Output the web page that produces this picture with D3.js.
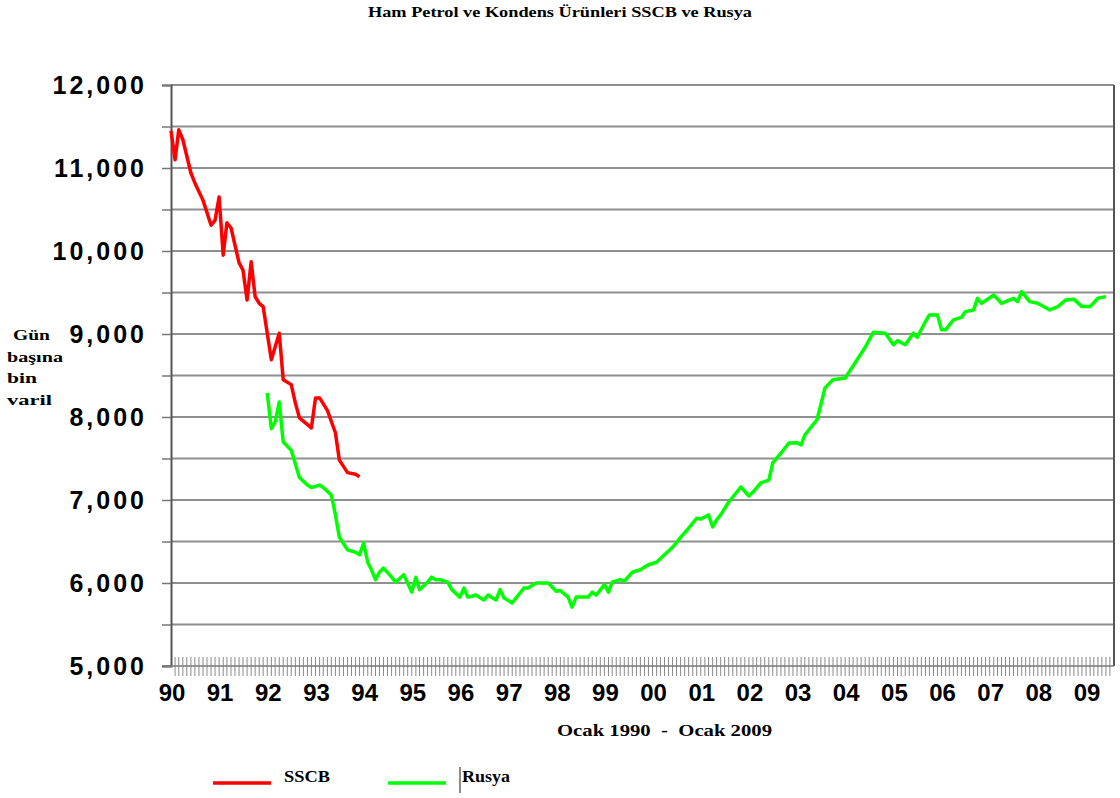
<!DOCTYPE html>
<html>
<head>
<meta charset="utf-8">
<script src="https://cdn.jsdelivr.net/npm/d3@7"></script>
<style>
  body { margin: 0; background: #fff; }
  svg { display: block; }
  .serif { font-family: "Liberation Serif", "Times New Roman", serif; font-weight: bold; }
  .sans { font-family: "Liberation Sans", Arial, sans-serif; font-weight: bold; }
</style>
</head>
<body>
<svg width="1120" height="798"></svg>
<script>
// SSCB (USSR) monthly readings
const sscbDates = ['1990-01','1990-02','1990-03','1990-04','1990-06','1990-07','1990-09','1990-11','1990-12',
  '1991-01','1991-02','1991-03','1991-04','1991-06','1991-07','1991-08','1991-09','1991-10','1991-11','1991-12',
  '1992-02','1992-04','1992-05','1992-07','1992-08','1992-09','1992-12',
  '1993-01','1993-02','1993-04','1993-06','1993-07','1993-09','1993-11','1993-12'];
const sscbValues = [11450,11100,11460,11340,10940,10820,10610,10310,10370,
  10650,9950,10340,10280,9860,9770,9410,9870,9450,9370,9330,
  8690,9010,8450,8390,8170,7990,7870,
  8230,8230,8080,7810,7480,7330,7310,7280];

// Rusya monthly readings
const rusyaDates = ['1992-01','1992-02','1992-03','1992-04','1992-05','1992-07','1992-09','1992-11','1992-12',
  '1993-02','1993-03','1993-05','1993-06','1993-07','1993-09','1993-11','1993-12',
  '1994-01','1994-02','1994-03','1994-04','1994-05','1994-06','1994-08','1994-09','1994-11',
  '1995-01','1995-02','1995-03','1995-05','1995-06','1995-07','1995-08','1995-10','1995-11',
  '1996-01','1996-02','1996-03','1996-04','1996-05','1996-07','1996-08','1996-10','1996-11','1996-12',
  '1997-02','1997-05','1997-06','1997-08','1997-11',
  '1998-01','1998-02','1998-04','1998-05','1998-06','1998-09','1998-10','1998-11',
  '1999-01','1999-02','1999-03','1999-05','1999-06','1999-08','1999-10','1999-12',
  '2000-02','2000-04','2000-06','2000-08','2000-10','2000-12',
  '2001-01','2001-03','2001-04','2001-05','2001-06','2001-08','2001-09','2001-11',
  '2002-01','2002-02','2002-04','2002-06','2002-07','2002-09','2002-11',
  '2003-01','2003-02','2003-03','2003-05','2003-06','2003-07','2003-08','2003-10',
  '2004-01','2004-04','2004-06','2004-08','2004-11',
  '2005-01','2005-02','2005-04','2005-06','2005-07','2005-09','2005-10','2005-12',
  '2006-01','2006-02','2006-04','2006-06','2006-07','2006-09','2006-10','2006-11',
  '2007-02','2007-04','2007-07','2007-08','2007-09','2007-11',
  '2008-01','2008-04','2008-06','2008-08','2008-10','2008-12',
  '2009-02','2009-04','2009-06'];
const rusyaValues = [8290,7860,7940,8180,7700,7600,7270,7180,7150,
  7180,7150,7060,6820,6550,6400,6370,6340,
  6480,6250,6160,6040,6130,6180,6070,6010,6100,
  5890,6070,5920,6010,6070,6040,6040,6010,5920,
  5830,5940,5830,5840,5855,5795,5855,5795,5920,5820,
  5760,5940,5940,6000,6000,
  5900,5910,5830,5710,5830,5830,5890,5855,
  5980,5890,6010,6040,6020,6130,6160,6220,
  6250,6340,6430,6550,6660,6780,
  6770,6820,6675,6760,6820,6976,7036,7157,
  7048,7096,7205,7240,7446,7566,7687,
  7690,7663,7783,7904,7964,8150,8350,8450,
  8470,8690,8840,9020,9010,
  8870,8920,8870,9010,8960,9150,9230,9230,
  9050,9050,9170,9200,9270,9290,9430,9370,
  9470,9370,9430,9390,9510,9390,
  9370,9290,9330,9410,9420,9330,
  9330,9430,9450];

const yTicks = [5000, 6000, 7000, 8000, 9000, 10000, 11000, 12000];
const yLabelLines = ['Gün', 'başına', 'bin', 'varil'];

const parse = d3.timeParse('%Y-%m');
const sscb = sscbDates.map((d, i) => ({ date: parse(d), value: sscbValues[i] }));
const rusya = rusyaDates.map((d, i) => ({ date: parse(d), value: rusyaValues[i] }));

const plotLeft = 171, plotRight = 1114, plotTop = 85, plotBottom = 666;
const svg = d3.select('svg');

const x = d3.scaleTime()
  .domain([parse('1990-01'), parse('2009-08')])
  .range([plotLeft, plotRight]);
const y = d3.scaleLinear().domain([5000, 12000]).range([plotBottom, plotTop]);

// gridlines every 500
const gridVals = d3.range(5000, 12001, 500);
svg.append('g').selectAll('line').data(gridVals.filter(v => v > 5000)).join('line')
  .attr('x1', plotLeft).attr('x2', plotRight)
  .attr('y1', d => y(d)).attr('y2', d => y(d))
  .attr('stroke', '#8f8f8f').attr('stroke-width', 2);

// right border
svg.append('line').attr('x1', plotRight).attr('x2', plotRight).attr('y1', plotTop).attr('y2', plotBottom)
  .attr('stroke', '#555').attr('stroke-width', 2);

// y axis
const yAxis = svg.append('g').attr('transform', `translate(${plotLeft},0)`)
  .call(d3.axisLeft(y).tickValues(gridVals).tickSize(9).tickPadding(15)
    .tickFormat(d => yTicks.includes(d) ? d3.format(',')(d) : ''));
yAxis.select('.domain').attr('stroke', '#555').attr('stroke-width', 2);
yAxis.selectAll('.tick line').attr('stroke', '#777').attr('stroke-width', 1.5);
yAxis.selectAll('.tick text').attr('class', 'sans').attr('font-size', 25)
  .attr('letter-spacing', 3).attr('fill', '#000');

// x axis: monthly ticks crossing the axis line
const months = d3.timeMonth.range(parse('1990-02'), parse('2009-08'));
svg.append('g').selectAll('line').data(months).join('line')
  .attr('x1', d => x(d)).attr('x2', d => x(d))
  .attr('y1', plotBottom - 9).attr('y2', plotBottom + 10)
  .attr('stroke', '#8a8a8a').attr('stroke-width', 1);
svg.append('line').attr('x1', plotLeft - 9).attr('x2', plotRight).attr('y1', plotBottom).attr('y2', plotBottom)
  .attr('stroke', '#777').attr('stroke-width', 1.5);

const years = d3.timeYear.range(parse('1990-01'), parse('2009-08'));
svg.append('g').selectAll('text').data(years).join('text')
  .attr('class', 'sans').attr('font-size', 24)
  .attr('x', d => x(d) + 1).attr('y', 701)
  .attr('text-anchor', 'middle')
  .text(d3.timeFormat('%y'));

// lines
const line = d3.line().x(d => x(d.date)).y(d => y(d.value));
svg.append('path').datum(sscb).attr('d', line)
  .attr('fill', 'none').attr('stroke', '#ff0000').attr('stroke-width', 3.5)
  .attr('stroke-linejoin', 'round');
svg.append('path').datum(rusya).attr('d', line)
  .attr('fill', 'none').attr('stroke', '#00ff00').attr('stroke-width', 3.5)
  .attr('stroke-linejoin', 'round');

// title
svg.append('text').attr('class', 'serif').attr('font-size', 15)
  .attr('x', 368).attr('y', 17)
  .attr('textLength', 384).attr('lengthAdjust', 'spacingAndGlyphs')
  .text('Ham Petrol ve Kondens Ürünleri SSCB ve Rusya');

// y label
const yLabelX = [13, 7, 7, 7];
const yLabelW = [37, 56, 30, 45];
svg.append('g').selectAll('text').data(yLabelLines).join('text')
  .attr('class', 'serif').attr('font-size', 15)
  .attr('x', (d, i) => yLabelX[i])
  .attr('y', (d, i) => 340 + i * 21.5)
  .attr('textLength', (d, i) => yLabelW[i]).attr('lengthAdjust', 'spacingAndGlyphs')
  .text(d => d);

// x label
svg.append('text').attr('class', 'serif').attr('font-size', 16)
  .attr('x', 557).attr('y', 736)
  .attr('textLength', 215).attr('lengthAdjust', 'spacingAndGlyphs')
  .attr('xml:space', 'preserve')
  .text('Ocak 1990  -  Ocak 2009');

// legend
const legend = [
  { label: 'SSCB', color: '#ff0000', x: 213, tx: 284, w: 46 },
  { label: 'Rusya', color: '#00ff00', x: 388, tx: 462, w: 48 }
];
const lg = svg.append('g').selectAll('g').data(legend).join('g');
lg.append('line')
  .attr('x1', d => d.x).attr('x2', d => d.x + 58)
  .attr('y1', 783).attr('y2', 783)
  .attr('stroke', d => d.color).attr('stroke-width', 3.5);
lg.append('text').attr('class', 'serif').attr('font-size', 17)
  .attr('x', d => d.tx).attr('y', 782)
  .attr('textLength', d => d.w).attr('lengthAdjust', 'spacingAndGlyphs')
  .text(d => d.label);
svg.append('line').attr('x1', 460).attr('x2', 460).attr('y1', 767).attr('y2', 793)
  .attr('stroke', '#666').attr('stroke-width', 1.5);
</script>
</body>
</html>
